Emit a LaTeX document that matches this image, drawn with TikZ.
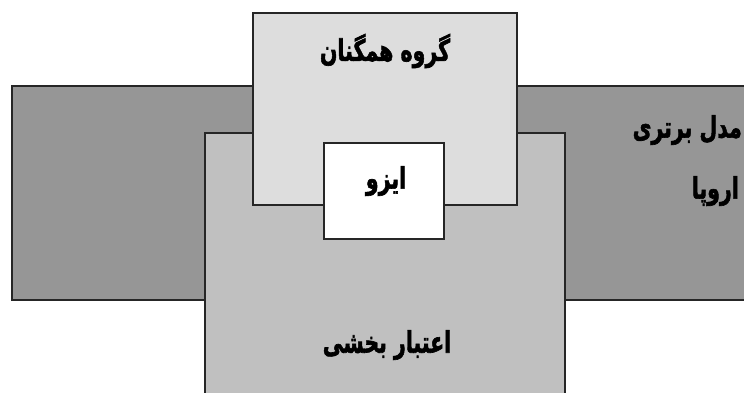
\documentclass[tikz,border=0pt]{standalone}
\usepackage{fontspec}
\newfontfamily\arabicfont[Script=Arabic,BoldFeatures={FakeBold=2.2}]{DejaVu Sans}
\TeXXeTstate=1
\definecolor{darkbox}{HTML}{969696}
\definecolor{midbox}{HTML}{C0C0C0}
\definecolor{lightbox}{HTML}{DDDDDD}
\newcommand{\fatxt}[1]{\scalebox{1}[1.45]{\beginR #1\endR}}
\begin{document}
\begin{tikzpicture}[x=1pt,y=-1pt,
  boxstyle/.style={draw=black!85,line width=1.4pt,inner sep=0pt,outer sep=0pt},
  label/.style={font=\arabicfont\bfseries\fontsize{20.5}{24}\selectfont,inner sep=0pt}]
\useasboundingbox (0,0) rectangle (744,392);
\clip (0,0) rectangle (744,392);
\fill[white] (0,0) rectangle (744,392);
\draw[boxstyle,fill=darkbox] (12,86) rectangle (770,300);
\draw[boxstyle,fill=midbox] (205,133) rectangle (565,420);
\draw[boxstyle,fill=lightbox] (253,13) rectangle (517,205);
\draw[boxstyle,fill=white] (324,143) rectangle (444,239);
\node[label,anchor=east] (m) at (742,130) {\fatxt{مدل برتری}};
\node[label,anchor=east] (e) at (739,191) {\fatxt{اروپا}};
\node[label] (g) at (385,51) {\fatxt{گروه همگنان}};
\node[label] (i) at (386,181) {\fatxt{ایزو}};
\node[label] (a) at (387,345) {\fatxt{اعتبار بخشی}};
\end{tikzpicture}
\end{document}
